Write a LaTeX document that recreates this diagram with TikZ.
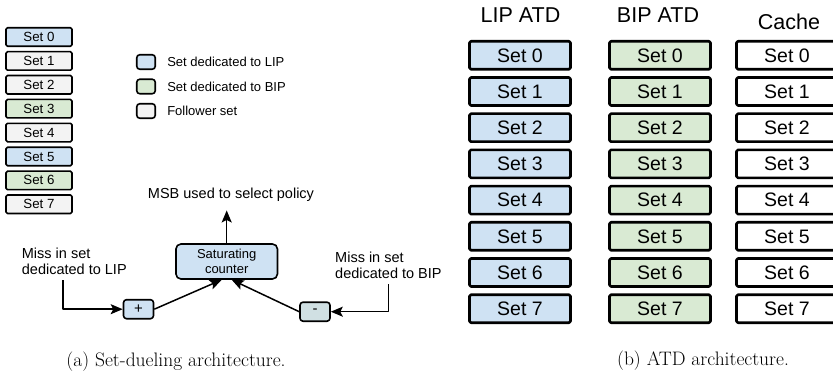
\documentclass[tikz,border=0pt]{standalone}
\usepackage{fontspec}
\setsansfont{Liberation Sans}
\usetikzlibrary{arrows.meta,positioning}
\definecolor{lipblue}{HTML}{CFE2F3}
\definecolor{bipgreen}{HTML}{D9EAD3}
\definecolor{follgray}{HTML}{F3F3F3}
\definecolor{decgray}{HTML}{D0E0E3}

\begin{document}
\begin{tikzpicture}[x=1pt, y=-1pt, line join=round,
	setbox/.style={draw, line width=1.6pt, rounded corners=1.5pt, minimum width=66pt, minimum height=18.5pt, inner sep=0pt, font=\sffamily\fontsize{13.3}{15}\selectfont},
	keybox/.style={draw, line width=1.6pt, rounded corners=3pt, minimum width=18.5pt, minimum height=14.5pt, inner sep=0pt},
	keytext/.style={inner sep=0pt, font=\sffamily\fontsize{13}{15}\selectfont},
	misstext/.style={align=left, inner xsep=0pt, inner ysep=5pt, font=\sffamily\fontsize{14.5}{16.3}\selectfont},
	link/.style={-{Stealth[length=12pt,width=10pt,inset=2.5pt]}, line width=1.5pt},
	atdbox/.style={draw, line width=2.6pt, rounded corners=1.5pt, minimum width=101pt, minimum height=28pt, inner sep=0pt, font=\sffamily\fontsize{19.5}{22}\selectfont},
	header/.style={inner sep=0pt, font=\sffamily\fontsize{21.5}{24}\selectfont},
	caption/.style={anchor=base, inner sep=0pt, font=\fontsize{19.5}{22}\selectfont}]
	\useasboundingbox (0,0) rectangle (833,374);
	
	% 1. Cot cac tap ben trai
	\node[setbox, fill=lipblue] (set0) at (39,37) {Set 0};
	\node[setbox, fill=follgray] (set1) at (39,60.9) {Set 1};
	\node[setbox, fill=follgray] (set2) at (39,84.8) {Set 2};
	\node[setbox, fill=bipgreen] (set3) at (39,108.7) {Set 3};
	\node[setbox, fill=follgray] (set4) at (39,132.6) {Set 4};
	\node[setbox, fill=lipblue] (set5) at (39,156.5) {Set 5};
	\node[setbox, fill=bipgreen] (set6) at (39,180.4) {Set 6};
	\node[setbox, fill=follgray] (set7) at (39,204.3) {Set 7};
	
	% 2. Chu thich
	\node[keybox, fill=lipblue] (keylip) at (146,62) {};
	\node[keybox, fill=bipgreen] (keybip) at (146,86.5) {};
	\node[keybox, fill=follgray] (keyfol) at (146,111) {};
	\node[keytext, right=11pt of keylip] (txtlip) {Set dedicated to LIP};
	\node[keytext, right=11pt of keybip] (txtbip) {Set dedicated to BIP};
	\node[keytext, right=11pt of keyfol] (txtfol) {Follower set};
	
	% 3. Bo dem bao hoa va cac nut +/-
	\node[setbox, fill=lipblue, rounded corners=5pt, minimum width=101.5pt, minimum height=35pt, align=center, font=\sffamily\fontsize{13}{15}\selectfont] (counter) at (226.7,261.5) {Saturating\\counter};
	\node[setbox, fill=lipblue, rounded corners=3pt, minimum width=30pt, minimum height=19pt, font=\sffamily\fontsize{15}{17}\selectfont] (plus) at (138.5,309.2) {+};
	\node[setbox, fill=decgray, rounded corners=3pt, minimum width=30pt, minimum height=19pt, font=\sffamily\fontsize{15}{17}\selectfont] (minus) at (315,311.7) {-};
	\node[inner sep=0pt, font=\sffamily\fontsize{14.5}{17}\selectfont] (msb) at (231,194.5) {MSB used to select policy};
	\node[misstext, anchor=west] (misslip) at (21.7,261.5) {Miss in set\\dedicated to LIP};
	\node[misstext, anchor=west] (missbip) at (335,265.5) {Miss in set\\dedicated to BIP};
	
	% 4. Mui ten
	\draw[link] (counter.north) -- ([yshift=-9pt]counter.north |- msb.south);
	\draw[link] ([xshift=-11.4pt]misslip.south) |- (plus.west);
	\draw[link] (missbip.south) |- (minus.east);
	\draw[link] (plus.east) -- ([xshift=-5pt]counter.south);
	\draw[link] (minus.west) -- ([xshift=5pt]counter.south);
	
	% 5. Ba cot ATD ben phai
	\node[header] (liphead) at (520.5,15) {LIP ATD};
	\node[header] (biphead) at (658,15) {BIP ATD};
	\node[header] (cachehead) at (789,21.5) {Cache};
	\foreach \i in {0,...,7}{
		\node[atdbox, fill=lipblue] (lip\i) at (520,55.3+36.2*\i) {Set \i};
		\node[atdbox, fill=bipgreen] (bip\i) at (660,55.3+36.2*\i) {Set \i};
		\node[atdbox, fill=white] (cache\i) at (787,55.3+36.2*\i) {Set \i};
	}
	
	% 6. Chu thich hinh
	\node[caption] (capa) at (176,366) {(a) Set-dueling architecture.};
	\node[caption] (capb) at (703,365) {(b) ATD architecture.};
\end{tikzpicture}
\end{document}
